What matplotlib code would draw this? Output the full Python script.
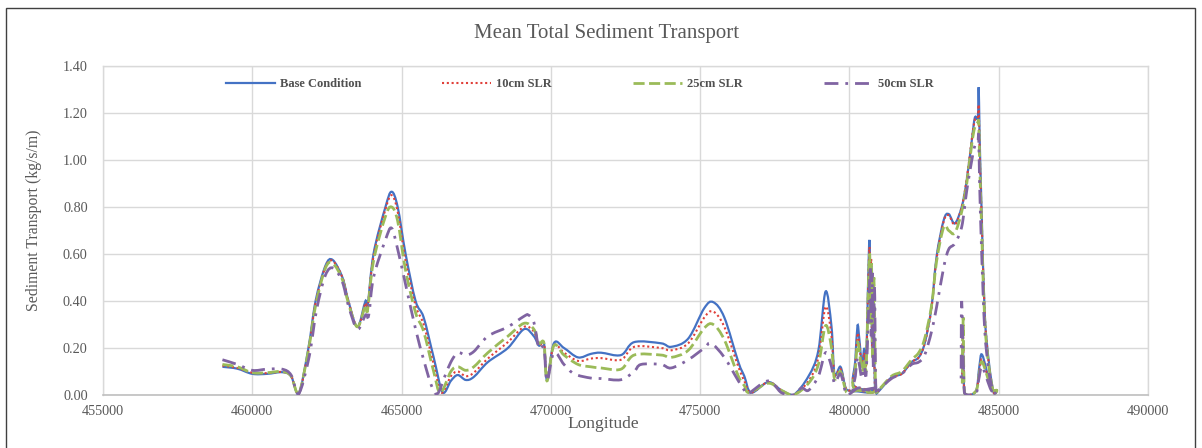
import numpy as np
import matplotlib
matplotlib.use("Agg")
import matplotlib.pyplot as plt
from matplotlib.path import Path
from matplotlib.patches import PathPatch, Rectangle
from matplotlib.lines import Line2D
from matplotlib.ticker import FormatStrFormatter

plt.rcParams["font.family"] = ["Liberation Serif", "DejaVu Serif"]

# ---------------------------------------------------------------- data
base_lon = [459000, 459500, 460000, 460500, 461000, 461300, 461550, 461880, 462120, 462450,
            462690, 463020, 463220, 463520, 463790, 463860, 464060, 464460, 464665, 464870,
            465135, 465470, 465740, 466075, 466380, 466650, 466880, 467150, 467420, 467890,
            468560, 469100, 469430, 469600, 469770, 469870, 470100, 470440, 470910, 471340,
            471680, 472350, 472790, 473690, 474030, 474600, 475140, 475440, 475810, 476280,
            476480, 476710, 477280, 477720, 478120, 478630, 478960, 479200, 479400, 479500,
            479700, 479850, 479950, 480300, 480700, 480850, 480150, 480200, 480270, 480330,
            480420, 480500, 480560, 480620, 480673, 480700, 480730, 480760, 480800, 480850,
            480900, 480975, 481410, 481750, 482080, 482320, 482520, 482750, 482920, 483160,
            483325, 483530, 483760, 483930, 484100, 484200, 484300, 484330, 484360, 484430,
            484530, 484670, 484830, 484935, 484750, 484450, 484350, 484250, 484000, 483850,
            483800, 483780]
base_val = [0.120, 0.112, 0.090, 0.090, 0.097, 0.080, 0.002, 0.20, 0.40, 0.55,
            0.575, 0.50, 0.40, 0.29, 0.40, 0.375, 0.60, 0.80, 0.865, 0.80,
            0.60, 0.40, 0.33, 0.16, 0.01, 0.06, 0.085, 0.064, 0.077, 0.14,
            0.20, 0.28, 0.25, 0.21, 0.22, 0.064, 0.22, 0.20, 0.16, 0.175,
            0.18, 0.17, 0.225, 0.22, 0.205, 0.24, 0.37, 0.395, 0.33, 0.14,
            0.08, 0.01, 0.055, 0.02, 0.00, 0.08, 0.19, 0.44, 0.29, 0.09,
            0.12, 0.04, 0.02, 0.015, 0.01, 0.02, 0.04, 0.15, 0.295, 0.24,
            0.13, 0.20, 0.14, 0.45, 0.66, 0.35, 0.55, 0.20, 0.45, 0.05,
            0.01, 0.015, 0.075, 0.09, 0.14, 0.16, 0.22, 0.375, 0.59, 0.745,
            0.77, 0.73, 0.80, 0.915, 1.085, 1.18, 1.18, 1.31, 1.10, 0.77,
            0.35, 0.14, 0.01, 0.02, 0.03, 0.17, 0.12, 0.02, 0.00, 0.01,
            0.22, 0.05]

slr10_lon = [459000, 459500, 460000, 460500, 461000, 461300, 461550, 461880, 462120, 462450,
             462700, 463020, 463220, 463520, 463790, 463860, 464060, 464460, 464665, 464870,
             465135, 465470, 465740, 466075, 466330, 466650, 466880, 467150, 467420, 467890,
             468560, 469100, 469430, 469600, 469770, 469870, 470100, 470440, 470910, 471340,
             471680, 472350, 472790, 473690, 474030, 474600, 475140, 475440, 475810, 476280,
             476480, 476700, 477280, 477720, 478120, 478630, 478960, 479200, 479400, 479500,
             479700, 479850, 479950, 480300, 480700, 480850, 480150, 480200, 480270, 480330,
             480420, 480500, 480560, 480620, 480673, 480700, 480730, 480760, 480800, 480850,
             480900, 480975, 481410, 481750, 482080, 482320, 482520, 482750, 482920, 483160,
             483325, 483530, 483760, 483930, 484100, 484200, 484300, 484330, 484360, 484430,
             484530, 484670, 484830, 484935, 484750, 484450, 484350, 484250, 484000, 483850,
             483800, 483780]
slr10_val = [0.125, 0.115, 0.095, 0.093, 0.098, 0.080, 0.003, 0.19, 0.39, 0.545,
             0.57, 0.50, 0.40, 0.29, 0.39, 0.37, 0.59, 0.79, 0.85, 0.78,
             0.57, 0.38, 0.30, 0.13, 0.01, 0.08, 0.10, 0.08, 0.095, 0.155,
             0.225, 0.29, 0.27, 0.21, 0.22, 0.07, 0.21, 0.18, 0.145, 0.155,
             0.157, 0.15, 0.205, 0.20, 0.19, 0.22, 0.33, 0.355, 0.29, 0.12,
             0.06, 0.01, 0.055, 0.02, 0.00, 0.06, 0.16, 0.375, 0.25, 0.09,
             0.11, 0.04, 0.02, 0.02, 0.01, 0.02, 0.04, 0.13, 0.26, 0.22,
             0.12, 0.18, 0.13, 0.42, 0.63, 0.32, 0.58, 0.18, 0.48, 0.05,
             0.01, 0.02, 0.075, 0.09, 0.14, 0.16, 0.22, 0.37, 0.58, 0.74,
             0.765, 0.725, 0.80, 0.92, 1.09, 1.17, 1.18, 1.23, 1.05, 0.75,
             0.35, 0.13, 0.01, 0.02, 0.03, 0.15, 0.10, 0.02, 0.00, 0.01,
             0.28, 0.05]

slr25_lon = [459000, 459500, 460000, 460500, 461000, 461300, 461550, 461880, 462120, 462450,
             462700, 463020, 463220, 463520, 463790, 463860, 464060, 464460, 464665, 464870,
             465135, 465470, 465740, 466075, 466300, 466650, 466880, 467150, 467420, 467890,
             468560, 469100, 469430, 469600, 469770, 469870, 470100, 470440, 470910, 471340,
             471680, 472350, 472790, 473690, 474030, 474600, 475140, 475440, 475810, 476280,
             476480, 476650, 477280, 477720, 478120, 478630, 478960, 479200, 479400, 479500,
             479700, 479850, 479950, 480300, 480700, 480850, 480150, 480200, 480270, 480330,
             480420, 480500, 480560, 480620, 480680, 480710, 480740, 480780, 480820, 480870,
             480920, 480975, 481410, 481750, 482080, 482320, 482520, 482750, 482920, 483160,
             483325, 483530, 483760, 483930, 484100, 484200, 484300, 484330, 484360, 484430,
             484530, 484670, 484830, 484935, 484750, 484450, 484350, 484250, 484000, 483850,
             483810, 483780]
slr25_val = [0.13, 0.12, 0.095, 0.095, 0.10, 0.08, 0.004, 0.19, 0.38, 0.54,
             0.56, 0.49, 0.39, 0.29, 0.38, 0.36, 0.57, 0.76, 0.80, 0.74,
             0.53, 0.35, 0.27, 0.10, 0.01, 0.10, 0.12, 0.105, 0.12, 0.18,
             0.25, 0.305, 0.28, 0.22, 0.22, 0.06, 0.21, 0.17, 0.13, 0.12,
             0.115, 0.11, 0.17, 0.17, 0.16, 0.19, 0.285, 0.30, 0.235, 0.08,
             0.04, 0.01, 0.05, 0.02, 0.00, 0.05, 0.13, 0.295, 0.20, 0.07,
             0.10, 0.03, 0.01, 0.02, 0.01, 0.02, 0.03, 0.11, 0.22, 0.19,
             0.10, 0.15, 0.11, 0.40, 0.60, 0.30, 0.56, 0.15, 0.50, 0.05,
             0.01, 0.02, 0.08, 0.10, 0.15, 0.18, 0.24, 0.38, 0.57, 0.715,
             0.70, 0.69, 0.78, 0.90, 1.07, 1.14, 1.16, 1.16, 1.00, 0.70,
             0.32, 0.12, 0.01, 0.02, 0.03, 0.14, 0.09, 0.02, 0.00, 0.01,
             0.33, 0.05]

slr50_lon = [459000, 459500, 460000, 460500, 461000, 461300, 461550, 461900, 462150, 462450,
             462720, 463020, 463220, 463520, 463790, 463900, 464060, 464460, 464665, 464870,
             465135, 465470, 465740, 466000, 466200, 466450, 466650, 466880, 467150, 467420,
             467890, 468560, 469100, 469250, 469430, 469600, 469770, 469870, 470100, 470440,
             470780, 471340, 471680, 472350, 472790, 473020, 473690, 474030, 474600, 475140,
             475370, 475810, 476280, 476480, 476600, 477280, 477720, 478120, 478400, 478630,
             478960, 479200, 479400, 479500, 479700, 479850, 479950, 480300, 480700, 480850,
             480150, 480200, 480270, 480330, 480420, 480500, 480560, 480640, 480700, 480730,
             480760, 480800, 480840, 480880, 480930, 480975, 481410, 481750, 482080, 482320,
             482520, 482750, 482920, 483160, 483325, 483530, 483760, 483930, 484100, 484200,
             484300, 484330, 484360, 484430, 484530, 484670, 484830, 484935, 484750, 484450,
             484350, 484250, 484000, 483850, 483760, 483740]
slr50_val = [0.15, 0.13, 0.105, 0.11, 0.11, 0.085, 0.005, 0.16, 0.36, 0.51,
             0.54, 0.48, 0.38, 0.28, 0.34, 0.34, 0.50, 0.66, 0.71, 0.62,
             0.47, 0.28, 0.15, 0.04, 0.005, 0.08, 0.14, 0.18, 0.17, 0.185,
             0.25, 0.29, 0.335, 0.34, 0.31, 0.20, 0.20, 0.06, 0.18, 0.13,
             0.09, 0.072, 0.07, 0.065, 0.10, 0.13, 0.13, 0.115, 0.15, 0.20,
             0.22, 0.16, 0.06, 0.02, 0.005, 0.06, 0.01, 0.00, 0.03, 0.02,
             0.08, 0.18, 0.12, 0.05, 0.09, 0.02, 0.00, 0.03, 0.02, 0.03,
             0.02, 0.08, 0.16, 0.13, 0.07, 0.12, 0.09, 0.35, 0.55, 0.25,
             0.52, 0.12, 0.46, 0.05, 0.00, 0.02, 0.07, 0.09, 0.13, 0.14,
             0.17, 0.27, 0.375, 0.545, 0.62, 0.645, 0.715, 0.87, 1.00, 1.06,
             1.08, 1.10, 0.90, 0.60, 0.28, 0.10, 0.01, 0.02, 0.02, 0.12,
             0.08, 0.01, 0.00, 0.01, 0.40, 0.05]

series_names = ["Base Condition", "10cm SLR", "25cm SLR", "50cm SLR"]
x_ticks = [455000, 460000, 465000, 470000, 475000, 480000, 485000, 490000]
y_ticks = [0.0, 0.2, 0.4, 0.6, 0.8, 1.0, 1.2, 1.4]


def smooth_path(xs, ys):
    """Smoothed (Catmull-Rom style) Bezier path through the given points."""
    pts = np.column_stack([xs, ys]).astype(float)
    n = len(pts)
    verts = [pts[0]]
    codes = [Path.MOVETO]
    for i in range(n - 1):
        p0 = pts[max(i - 1, 0)]
        p1 = pts[i]
        p2 = pts[i + 1]
        p3 = pts[min(i + 2, n - 1)]
        c1 = p1 + (p2 - p0) / 6.0
        c2 = p2 - (p3 - p1) / 6.0
        c1[1] = max(c1[1], 0.0)
        c2[1] = max(c2[1], 0.0)
        verts += [c1, c2, p2]
        codes += [Path.CURVE4] * 3
    return Path(verts, codes)


fig = plt.figure(figsize=(12.02, 4.48), dpi=100)
W, H = 1202.0, 448.0
ax = fig.add_axes([103 / W, 1 - 395 / H, 1045 / W, 329 / H])

styles = [
    dict(color="#4472C4", lw=1.6, ls="-"),
    dict(color="#E0403A", lw=1.5, ls=(0, (1, 1.3))),
    dict(color="#9BBB59", lw=2.0, ls=(0, (4, 1.6))),
    dict(color="#8064A2", lw=2.0, ls=(0, (5, 2.5, 1, 2.5))),
]
data = [(base_lon, base_val), (slr10_lon, slr10_val),
        (slr25_lon, slr25_val), (slr50_lon, slr50_val)]

handles = []
for (lon, val), st, name in zip(data, styles, series_names):
    patch = PathPatch(smooth_path(lon, val), facecolor="none", edgecolor=st["color"],
                      lw=st["lw"], linestyle=st["ls"], capstyle="butt", zorder=3 + len(handles) * 0.1)
    ax.add_patch(patch)
    handles.append(Line2D([], [], color=st["color"], lw=st["lw"], ls=st["ls"], label=name))

ax.set_xlim(455000, 490000)
ax.set_ylim(0, 1.4)
ax.set_xticks(x_ticks)
ax.set_yticks(y_ticks)
ax.xaxis.set_major_formatter(FormatStrFormatter("%d"))
ax.yaxis.set_major_formatter(FormatStrFormatter("%.2f"))
ax.grid(True, color="#D9D9D9", lw=1.0, zorder=0)
ax.set_axisbelow(True)
for side in ["top", "right", "left"]:
    ax.spines[side].set_color("#D9D9D9")
    ax.spines[side].set_linewidth(1.0)
ax.spines["bottom"].set_color("#BFBFBF")
ax.spines["bottom"].set_linewidth(1.2)
ax.tick_params(length=0, labelsize=10.3, labelcolor="#595959")
ax.tick_params(axis="x", pad=7)
ax.tick_params(axis="y", pad=11)

ax.set_xlabel("Longitude", fontsize=12.5, color="#595959")
ax.xaxis.set_label_coords(0.4785, -0.064)
ax.set_ylabel("Sediment Transport (kg/s/m)", fontsize=11.3, color="#595959")
ax.yaxis.set_label_coords(-0.058, 0.53)
ax.set_title("Mean Total Sediment Transport", fontsize=15, color="#595959",
             x=0.482, y=1.085, pad=0)

leg = ax.legend(handles=handles, loc="center left", bbox_to_anchor=(0.1177, 0.945),
                ncol=4, frameon=False, borderpad=0, borderaxespad=0,
                handlelength=3.9, handletextpad=0.4, columnspacing=6.5,
                prop=dict(family="Liberation Serif", weight="bold", size=9))
for t in leg.get_texts():
    t.set_color("#505050")

# outer chart border
fig.patches.append(Rectangle((6 / W, -0.1), (1195 - 6) / W, (H - 8) / H + 0.1,
                             transform=fig.transFigure, fill=False,
                             edgecolor="#404040", lw=1.0))

fig.savefig("out.png", dpi=100)
